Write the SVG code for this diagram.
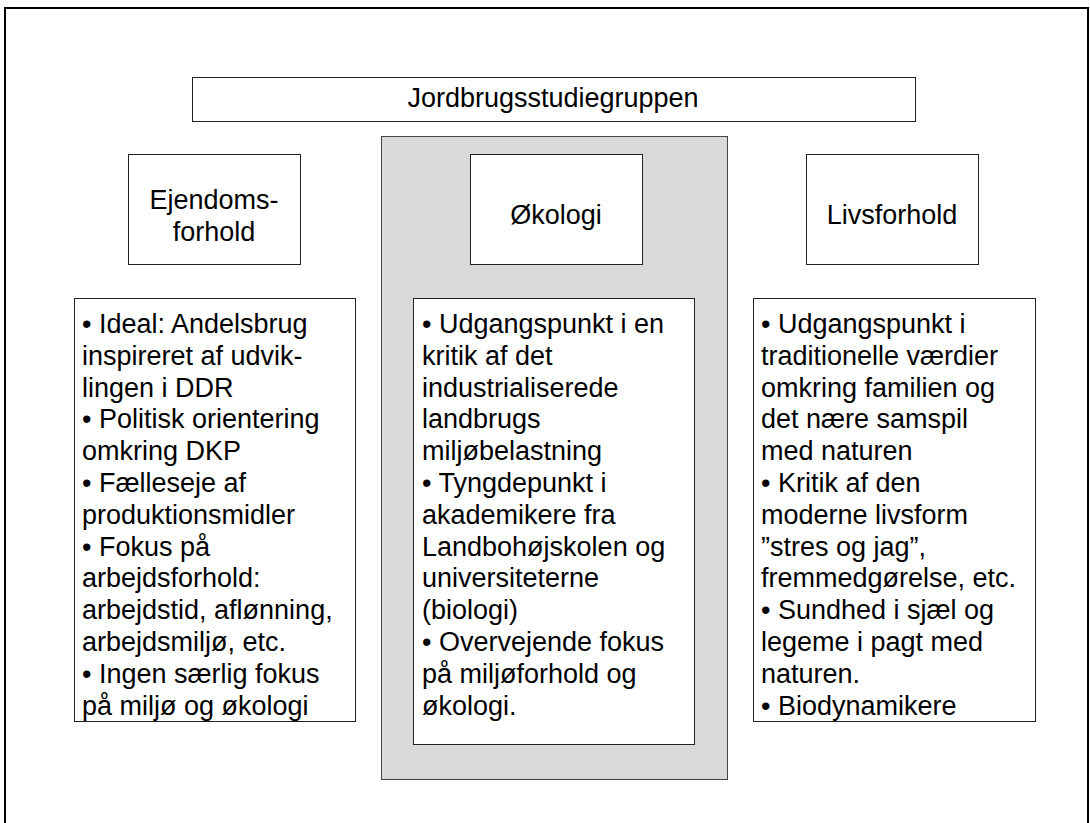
<svg xmlns="http://www.w3.org/2000/svg" width="1090" height="823" viewBox="0 0 1090 823">
<style>
.box{fill:#fff;stroke:#222;stroke-width:1}
.panel{fill:#d9d9d9;stroke:#444;stroke-width:1}
text{font-family:"Liberation Sans",Arial,sans-serif;font-size:27px;fill:#000}
.c{text-anchor:middle}
</style>
<rect x="0" y="0" width="1090" height="823" fill="#fff"/>
<rect x="5" y="8" width="1083" height="830" fill="none" stroke="#000" stroke-width="2"/>
<g id="title">
<rect class="box" x="192.5" y="77.5" width="723" height="44"/>
<text class="c" x="553" y="107">Jordbrugsstudiegruppen</text>
</g>
<g id="okologi-panel">
<rect class="panel" x="381.5" y="136.5" width="346" height="643"/>
</g>
<g id="ejendomsforhold">
<rect class="box" x="128.5" y="154.5" width="172" height="110"/>
<text class="c" x="214" y="209">Ejendoms-</text>
<text class="c" x="214" y="241">forhold</text>
</g>
<g id="okologi">
<rect class="box" x="470.5" y="154.5" width="172" height="110"/>
<text class="c" x="556" y="224">Økologi</text>
</g>
<g id="livsforhold">
<rect class="box" x="806.5" y="154.5" width="172" height="110"/>
<text class="c" x="892" y="224">Livsforhold</text>
</g>
<g id="ejendom-list">
<rect class="box" x="74.5" y="298.5" width="281" height="423"/>
<text x="82" y="333">• Ideal: Andelsbrug</text>
<text x="82" y="364.8">inspireret af udvik-</text>
<text x="82" y="396.6">lingen i DDR</text>
<text x="82" y="428.4">• Politisk orientering</text>
<text x="82" y="460.2">omkring DKP</text>
<text x="82" y="492">• Fælleseje af</text>
<text x="82" y="523.8">produktionsmidler</text>
<text x="82" y="555.6">• Fokus på</text>
<text x="82" y="587.4">arbejdsforhold:</text>
<text x="82" y="619.2">arbejdstid, aflønning,</text>
<text x="82" y="651">arbejdsmiljø, etc.</text>
<text x="82" y="682.8">• Ingen særlig fokus</text>
<text x="82" y="714.6">på miljø og økologi</text>
</g>
<g id="okologi-list">
<rect class="box" x="413.5" y="298.5" width="281" height="446"/>
<text x="422" y="333">• Udgangspunkt i en</text>
<text x="422" y="364.8">kritik af det</text>
<text x="422" y="396.6">industrialiserede</text>
<text x="422" y="428.4">landbrugs</text>
<text x="422" y="460.2">miljøbelastning</text>
<text x="422" y="492">• Tyngdepunkt i</text>
<text x="422" y="523.8">akademikere fra</text>
<text x="422" y="555.6">Landbohøjskolen og</text>
<text x="422" y="587.4">universiteterne</text>
<text x="422" y="619.2">(biologi)</text>
<text x="422" y="651">• Overvejende fokus</text>
<text x="422" y="682.8">på miljøforhold og</text>
<text x="422" y="714.6">økologi.</text>
</g>
<g id="livs-list">
<rect class="box" x="753.5" y="298.5" width="282" height="423"/>
<text x="761" y="333">• Udgangspunkt i</text>
<text x="761" y="364.8">traditionelle værdier</text>
<text x="761" y="396.6">omkring familien og</text>
<text x="761" y="428.4">det nære samspil</text>
<text x="761" y="460.2">med naturen</text>
<text x="761" y="492">• Kritik af den</text>
<text x="761" y="523.8">moderne livsform</text>
<text x="761" y="555.6">”stres og jag”,</text>
<text x="761" y="587.4">fremmedgørelse, etc.</text>
<text x="761" y="619.2">• Sundhed i sjæl og</text>
<text x="761" y="651">legeme i pagt med</text>
<text x="761" y="682.8">naturen.</text>
<text x="761" y="714.6">• Biodynamikere</text>
</g>
<g id="connectors"></g>
</svg>
